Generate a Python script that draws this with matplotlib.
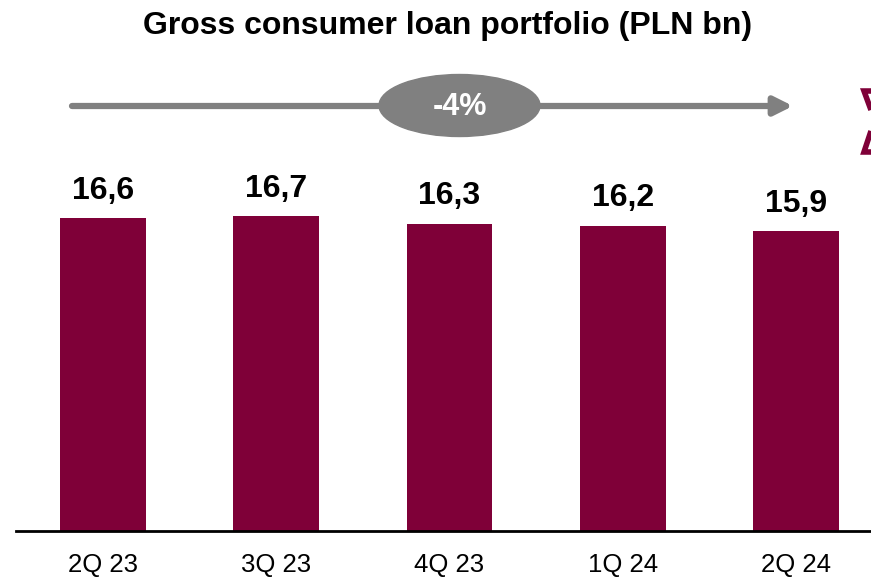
import matplotlib
matplotlib.use("Agg")
import matplotlib.pyplot as plt
from matplotlib.patches import Ellipse, Polygon

plt.rcParams['font.family'] = ['Liberation Sans', 'DejaVu Sans']

quarters = ['2Q 23', '3Q 23', '4Q 23', '1Q 24', '2Q 24']
loans = [16.6, 16.7, 16.3, 16.2, 15.9]
change_label = '-4%'
title = 'Gross consumer loan portfolio (PLN bn)'

W, H = 871, 585
fig = plt.figure(figsize=(W / 100, H / 100), dpi=100)

# bar axes, placed in pixel units
left, right, base = 16, 871, 530.5
ax = fig.add_axes([left / W, (H - base) / H, (right - left) / W, base / H])
x = range(len(loans))
ax.bar(x, loans, width=0.496, color='#7f0038')
ax.set_xlim(-0.502, 4.433)
ax.set_ylim(0, 28.2)
for xi, v in zip(x, loans):
    ax.annotate(f'{v:.1f}'.replace('.', ','), (xi, v), xytext=(0, 9),
                textcoords='offset points', ha='center', va='bottom',
                fontsize=23, fontweight='bold')
ax.set_xticks(list(x))
ax.set_xticklabels(quarters, fontsize=18.5)
ax.tick_params(axis='x', length=0, pad=16)
ax.set_yticks([])
for s in ['top', 'right', 'left']:
    ax.spines[s].set_visible(False)
ax.spines['bottom'].set_linewidth(2)
ax.spines['bottom'].set_color('black')

# overlay in pixel coords for title and trend arrow
ov = fig.add_axes([0, 0, 1, 1], facecolor='none')
ov.set_xlim(0, W)
ov.set_ylim(H, 0)
ov.axis('off')

ov.text(448, 26, title, ha='center', va='center', fontsize=23, fontweight='bold')

ov.annotate('', xy=(793, 106), xytext=(72, 106),
            arrowprops=dict(arrowstyle='-|>,head_length=1.1,head_width=0.55',
                            color='#808080', lw=4.5, shrinkA=0, shrinkB=0))
ov.add_patch(Ellipse((459.5, 105.5), 161, 62, color='#808080', zorder=3))
ov.text(460, 107, change_label, ha='center', va='center', color='white',
        fontsize=22, fontweight='bold', zorder=4)

# cut-off chevron at the right edge
ov.add_patch(Polygon([(875, 91), (864, 91), (871, 110)], closed=False,
                     fill=False, edgecolor='#7f0038', lw=4, joinstyle='miter'))
ov.add_patch(Polygon([(871, 131), (864, 152), (875, 152)], closed=False,
                     fill=False, edgecolor='#7f0038', lw=4, joinstyle='miter'))

fig.savefig('out.png', dpi=100)
